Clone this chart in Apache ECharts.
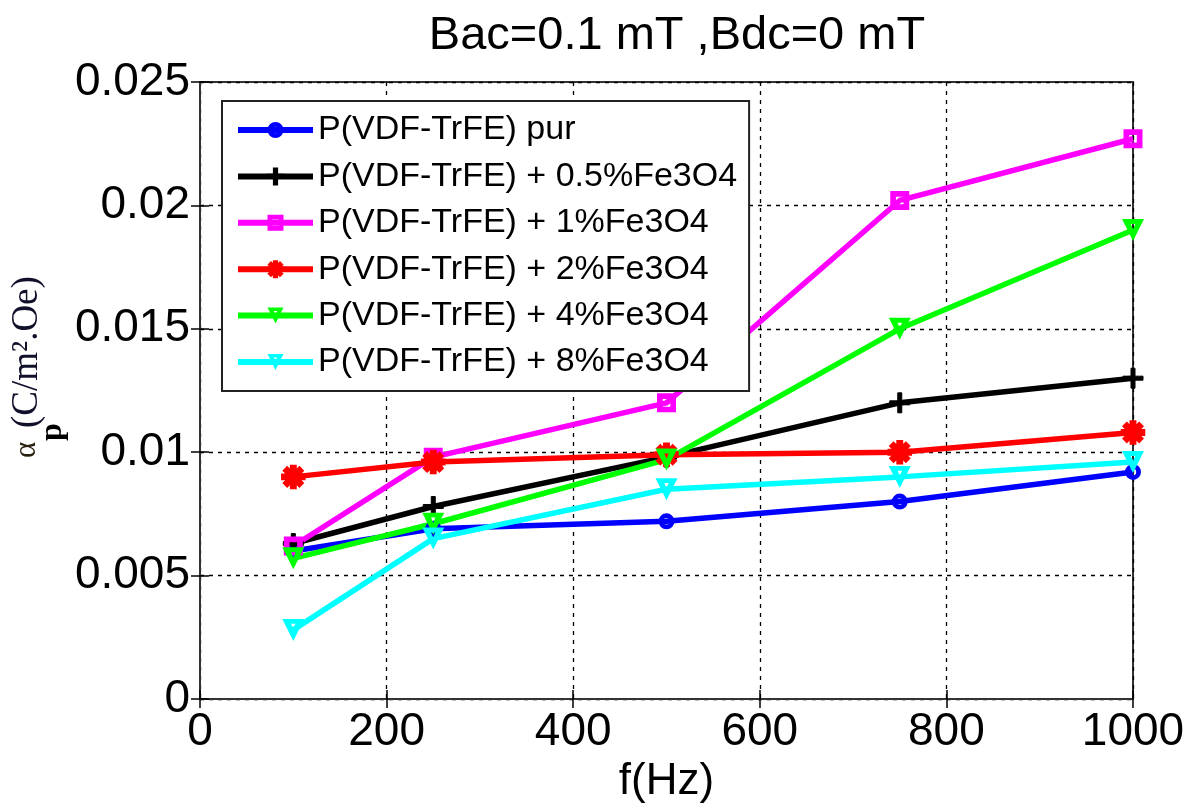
<!DOCTYPE html>
<html>
<head>
<meta charset="utf-8">
<script src="https://cdn.jsdelivr.net/npm/echarts@6/dist/echarts.min.js"></script>
<style>
  html, body { margin: 0; padding: 0; background: #fff; }
  #main { width: 1192px; height: 811px; }
</style>
</head>
<body>
<div id="main"></div>
<script type="text/javascript">
    // frequencies (Hz)
    var freqs = [100, 250, 500, 750, 1000];
    var yTicks = [0, 0.005, 0.01, 0.015, 0.02, 0.025];
    // alpha_p values per sample
    var pur   = [0.0060, 0.0069, 0.0072, 0.0080, 0.0092];
    var fe05  = [0.0063, 0.0078, 0.0098, 0.0120, 0.0130];
    var fe1   = [0.0062, 0.0098, 0.0120, 0.0202, 0.0227];
    var fe2   = [0.0090, 0.0096, 0.0099, 0.0100, 0.0108];
    var fe4   = [0.0057, 0.0071, 0.0097, 0.0150, 0.0190];
    var fe8   = [0.0028, 0.0065, 0.0085, 0.0090, 0.0096];
    var names = [
        'P(VDF-TrFE) pur',
        'P(VDF-TrFE) + 0.5%Fe3O4',
        'P(VDF-TrFE) + 1%Fe3O4',
        'P(VDF-TrFE) + 2%Fe3O4',
        'P(VDF-TrFE) + 4%Fe3O4',
        'P(VDF-TrFE) + 8%Fe3O4'
    ];

    function pairs(vals) {
        return freqs.map(function (f, i) { return [f, vals[i]]; });
    }

    // marker shapes (thick hollow ones are drawn as rings)
    var ringPath = 'path://M5,0A5,5 0 1,1 5,10A5,5 0 1,1 5,0Z M5,3A2,2 0 1,0 5,7A2,2 0 1,0 5,3Z';
    var plusPath = 'path://M4,0H6V4H10V6H6V10H4V6H0V4H4Z';
    var squarePath = 'path://M0,0H10V10H0Z M3,3V7H7V3Z';
    var starPath = 'path://M4,0H6V2.6L7.8,0.8L9.2,2.2L7.4,4H10V6H7.4L9.2,7.8L7.8,9.2L6,7.4V10H4V7.4L2.2,9.2L0.8,7.8L2.6,6H0V4H2.6L0.8,2.2L2.2,0.8L4,2.6Z';
    var trianglePath = 'path://M0,0H10L5,10Z M4,2.2L5,4.6L6,2.2Z';

    function line(name, vals, color, symbol, size, border) {
        return {
            name: name,
            type: 'line',
            data: pairs(vals),
            symbol: symbol,
            symbolSize: size,
            showAllSymbol: true,
            lineStyle: { color: color, width: 5.5 },
            itemStyle: { color: color, borderColor: color, borderWidth: border },
            emphasis: { disabled: true },
            z: 3
        };
    }

    var myChart = echarts.init(document.getElementById('main'));
    var sans = 'Liberation Sans, Arial';
    var serif = 'Liberation Serif, Times New Roman';
    var tickFont = { fontFamily: sans, fontSize: 46, color: '#000' };
    var gridLine = { show: true, lineStyle: { color: '#000', type: [4, 5], width: 1.3 } };
    var frameLine = { show: true, lineStyle: { color: '#333', width: 2 } };
    var inTick = { show: true, inside: true, length: 9, lineStyle: { color: '#000', width: 1.5 } };

    myChart.setOption({
        animation: false,
        backgroundColor: '#fff',
        title: {
            text: 'Bac=0.1 mT ,Bdc=0 mT',
            left: 672,
            top: 8,
            textAlign: 'center',
            textStyle: { fontFamily: sans, fontSize: 47, fontWeight: 'normal', color: '#000' }
        },
        // y-axis label: alpha with subscript p, rotated
        graphic: [
            { type: 'text', x: 27, y: 458, rotation: Math.PI / 2, z: 10,
              style: { text: 'α', fontFamily: serif, fontSize: 31, fill: '#2a2010', align: 'left', verticalAlign: 'middle' } },
            { type: 'text', x: 53, y: 441, rotation: Math.PI / 2, z: 10,
              style: { text: 'p', fontFamily: serif, fontSize: 32, fontWeight: 'bold', fill: '#000', align: 'left', verticalAlign: 'middle' } },
            { type: 'text', x: 27, y: 428, rotation: Math.PI / 2, z: 10,
              style: { text: '(C/m².Oe)', fontFamily: serif, fontSize: 37, fill: '#10102a', align: 'left', verticalAlign: 'middle' } }
        ],
        grid: {
            left: 200, right: 59, top: 82, bottom: 112,
            show: true, borderColor: '#333', borderWidth: 2, backgroundColor: '#fff'
        },
        legend: {
            orient: 'vertical',
            left: 222, top: 101,
            padding: [9, 12, 9, 13],
            itemWidth: 75,
            itemHeight: 20,
            itemGap: 6.4,
            itemTextGap: 4,
            backgroundColor: '#fff',
            borderColor: '#222',
            borderWidth: 2,
            borderRadius: 0,
            lineStyle: { width: 6 },
            data: names,
            textStyle: { fontFamily: sans, fontSize: 34, color: '#000', lineHeight: 40 }
        },
        xAxis: [{
            type: 'value',
            min: 0, max: 1000, interval: 200,
            name: 'f(Hz)',
            nameLocation: 'middle',
            nameGap: 58,
            nameTextStyle: { fontFamily: sans, fontSize: 44, color: '#000' },
            axisLine: frameLine,
            axisTick: inTick,
            axisLabel: Object.assign({ margin: 10, formatter: function (v) { return String(v); } }, tickFont),
            splitLine: gridLine
        }, {
            type: 'value',
            position: 'top',
            min: 0, max: 1000, interval: 200,
            axisLine: frameLine,
            axisTick: inTick,
            axisLabel: { show: false },
            splitLine: { show: false }
        }],
        yAxis: [{
            type: 'value',
            min: 0, max: 0.025, interval: 0.005,
            axisLine: frameLine,
            axisTick: inTick,
            axisLabel: Object.assign({
                margin: 10,
                formatter: function (v) { return String(+v.toFixed(3)); }
            }, tickFont),
            splitLine: gridLine
        }, {
            type: 'value',
            position: 'right',
            min: 0, max: 0.025, interval: 0.005,
            axisLine: frameLine,
            axisTick: inTick,
            axisLabel: { show: false },
            splitLine: { show: false }
        }],
        series: [
            line(names[0], pur,  '#0000ff', ringPath, 16, 0),
            line(names[1], fe05, '#000000', plusPath, 20, 1),
            line(names[2], fe1,  '#ff00ff', squarePath, 19, 0),
            line(names[3], fe2,  '#ff0000', starPath, 22, 2.5),
            line(names[4], fe4,  '#00ff00', trianglePath, 22, 0),
            line(names[5], fe8,  '#00ffff', trianglePath, 22, 0)
        ]
    });
</script>
</body>
</html>
